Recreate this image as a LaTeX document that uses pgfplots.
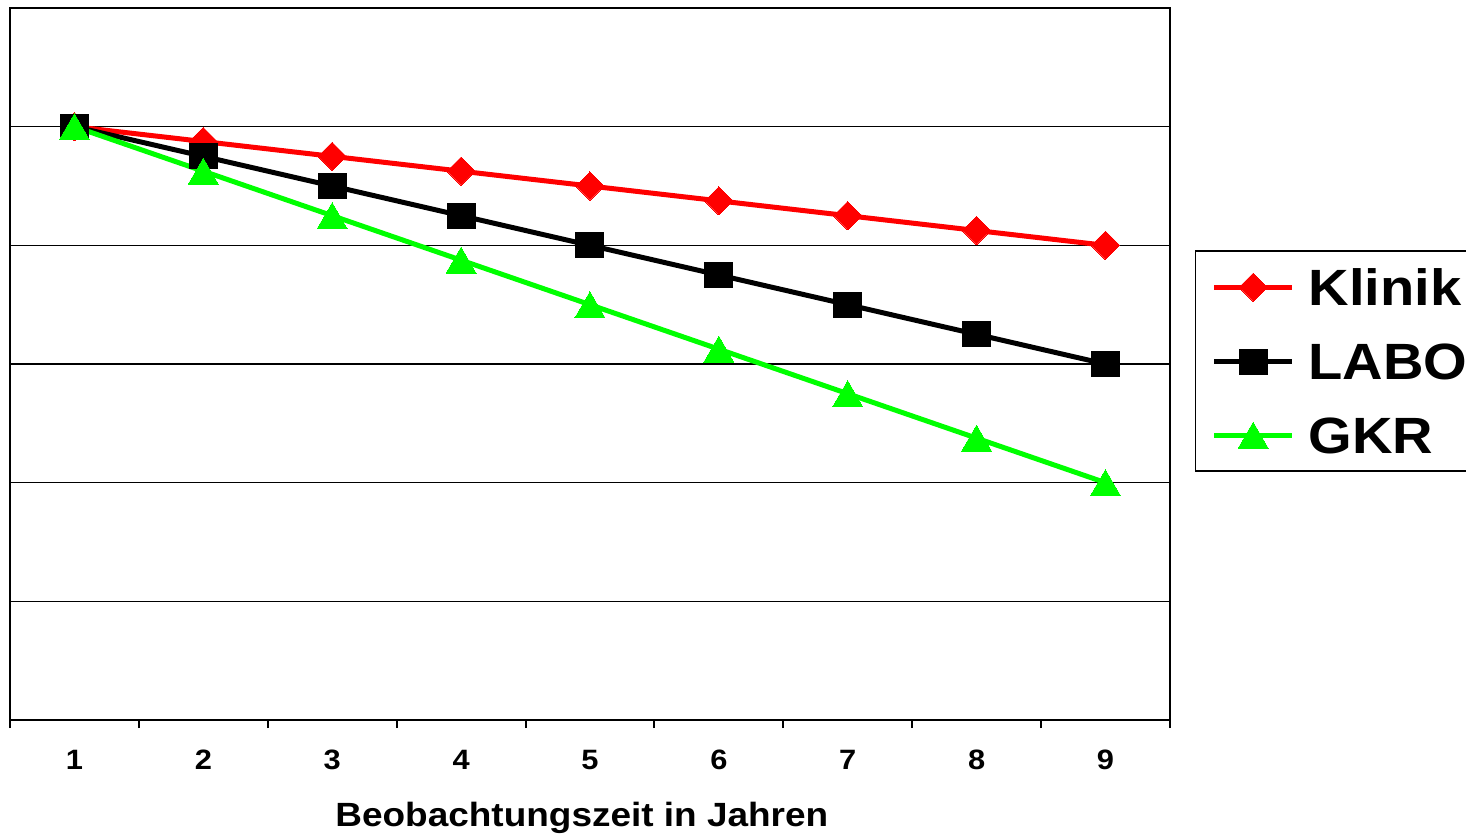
\documentclass[border=0pt]{standalone}
\usepackage{pgfplots}
\pgfplotsset{compat=1.18}
\usepackage{fontspec}
\setmainfont{Liberation Sans}[FakeStretch=1.1]
\definecolor{kred}{RGB}{255,0,0}
\definecolor{kgreen}{RGB}{0,255,0}
\begin{document}
\begin{tikzpicture}[x=1pt,y=1pt]
\useasboundingbox (0,0) rectangle (1466,-834);
\begin{axis}[
  at={(10pt,-720pt)}, anchor=south west,
  scale only axis, width=1160pt, height=712pt,
  xmin=0.5, xmax=9.5, ymin=0, ymax=6,
  axis line style={line width=2pt},
  xtick={1,2,3,4,5,6,7,8,9},
  xticklabels={1,2,3,4,5,6,7,8,9},
  minor xtick={0.5,1.5,2.5,3.5,4.5,5.5,6.5,7.5,8.5,9.5},
  xtick pos=bottom,
  tick align=outside,
  major tick length=0pt,
  minor tick length=8pt,
  minor tick style={line width=2pt,black},
  ytick={1,2,3,4,5},
  yticklabels={},
  ymajorgrids,
  major grid style={line width=1.5pt,black},
  /pgf/number format/assume math mode=true,
  xticklabel style={font=\fontsize{28}{32}\selectfont\bfseries, anchor=base, yshift=-49pt},
  xlabel={Beobachtungszeit in Jahren},
  xlabel style={font=\fontsize{33.6}{38}\selectfont\bfseries, at={(axis description cs:0.493,0)}, anchor=base, yshift=-106pt},
  legend image code/.code={\draw[mark repeat=2,mark phase=2] plot coordinates {(0pt,0pt)(39pt,0pt)(78pt,0pt)};},
  legend style={at={(1.0216,0.660)}, anchor=north west, draw=black, line width=1.5pt,
    font=\fontsize{51}{60}\selectfont\bfseries,
    nodes={inner sep=0pt, text depth=0pt},
    inner xsep=16pt, inner ysep=18pt, row sep=38pt, column sep=14pt},
  legend cell align=left,
]
\addplot[kred, line width=5pt, mark=square*, mark size=10pt, mark options={rotate=45, solid, line width=0pt}]
  coordinates {(1,5) (2,4.875) (3,4.75) (4,4.625) (5,4.5) (6,4.375) (7,4.25) (8,4.125) (9,4)};
\addlegendentry{Klinik}
\addplot[black, line width=5pt, mark=square*, mark size=12.5pt, mark options={xscale=1.12, solid, line width=0pt}]
  coordinates {(1,5) (2,4.75) (3,4.5) (4,4.25) (5,4) (6,3.75) (7,3.5) (8,3.25) (9,3)};
\addlegendentry{LABO}
\addplot[kgreen, line width=5pt, mark=triangle*, mark size=17.3pt, mark options={yshift=-4.3pt, solid, line width=0pt}]
  coordinates {(1,5) (2,4.625) (3,4.25) (4,3.875) (5,3.5) (6,3.125) (7,2.75) (8,2.375) (9,2)};
\addlegendentry{GKR}
\end{axis}
\end{tikzpicture}
\end{document}
